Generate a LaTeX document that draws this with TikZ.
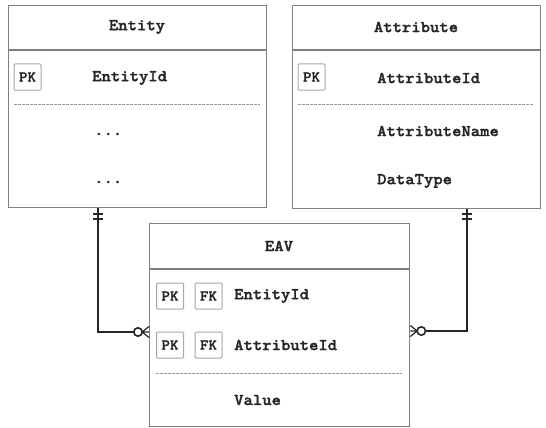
\documentclass[tikz,border=0pt]{standalone}
\usepackage{fontspec}
\newfontfamily\courbf{LMMonoLt10-Bold}[FakeBold=1.6,FakeStretch=1.08]
\begin{document}
\begin{tikzpicture}[x=1pt,y=-1pt,
  box/.style={draw=black!50, line width=1.3pt, fill=white, anchor=north west, inner sep=0pt},
  sep/.style={draw=black!50, line width=1.2pt},
  dsep/.style={draw=black!40, line width=1pt, dash pattern=on 2.5pt off 1.5pt},
  txt/.style={font=\courbf\fontsize{16.5}{18}\selectfont, text=black!85, inner sep=0pt},
  key/.style={draw=black!35, line width=1pt, rounded corners=1pt, minimum width=27pt, minimum height=26pt, inner sep=0pt, font=\courbf\fontsize{15}{17}\selectfont, text=black!85},
  rel/.style={draw=black!85, line width=1.6pt},
  tick/.style={draw=black!85, line width=1.2pt}
]
\useasboundingbox (0,0) rectangle (546,428);

% Entity table
\node[box, minimum width=258pt, minimum height=202pt] (ent) at (8,5) {};
\draw[sep] (8,50) -- (266,50);
\node[txt] (entT) at (137,27) {Entity};
\node[key] (entPK) at (27.5,77) {PK};
\node[txt, anchor=west] (entId) at (92,78) {EntityId};
\draw[dsep] (14,104) -- (260,104);
\node[txt, anchor=west] (entD1) at (94,134) {...};
\node[txt, anchor=west] (entD2) at (94,182) {...};

% Attribute table
\node[box, minimum width=248pt, minimum height=203pt] (att) at (292,5) {};
\draw[sep] (292,50) -- (540,50);
\node[txt] (attT) at (416,27) {Attribute};
\node[key] (attPK) at (311.5,77) {PK};
\node[txt, anchor=west] (attId) at (377,78) {AttributeId};
\draw[dsep] (298,104) -- (534,104);
\node[txt, anchor=west] (attN) at (377,131) {AttributeName};
\node[txt, anchor=west] (attDT) at (377,181) {DataType};

% EAV table
\node[box, minimum width=260pt, minimum height=203pt] (eav) at (149,223) {};
\draw[sep] (149,269) -- (409,269);
\node[txt] (eavT) at (279,246) {EAV};
\node[key] (eavPK1) at (170,296) {PK};
\node[key] (eavFK1) at (208.5,296) {FK};
\node[txt, anchor=west] (eavE) at (234,296) {EntityId};
\node[key] (eavPK2) at (170,345) {PK};
\node[key] (eavFK2) at (208.5,345) {FK};
\node[txt, anchor=west] (eavA) at (234,345) {AttributeId};
\draw[dsep] (156,373) -- (402,373);
\node[txt, anchor=west] (eavV) at (234,400) {Value};

% Relationships
\coordinate (lx) at (98,0);
\coordinate (ly) at (0,332);
\coordinate (rx) at (467,0);
\coordinate (ry) at (0,331);

\draw[rel] (ent.south -| lx) |- ([xshift=-12pt]eav.west |- ly);
\draw[tick] (93,214) -- (103,214) (93,219) -- (103,219);
\draw[rel, fill=white] ([xshift=-11pt]eav.west |- ly) circle (4.2pt);
\draw[tick] ([xshift=-7pt]eav.west |- ly) -- (eav.west |- ly)
  ([xshift=-7pt]eav.west |- ly) -- ([yshift=-5.5pt]eav.west |- ly)
  ([xshift=-7pt]eav.west |- ly) -- ([yshift=5.5pt]eav.west |- ly);

\draw[rel] (att.south -| rx) |- ([xshift=12pt]eav.east |- ry);
\draw[tick] (462,214) -- (472,214) (462,219) -- (472,219);
\draw[rel, fill=white] ([xshift=11pt]eav.east |- ry) circle (4.2pt);
\draw[tick] ([xshift=7pt]eav.east |- ry) -- (eav.east |- ry)
  ([xshift=7pt]eav.east |- ry) -- ([yshift=-5.5pt]eav.east |- ry)
  ([xshift=7pt]eav.east |- ry) -- ([yshift=5.5pt]eav.east |- ry);
\end{tikzpicture}
\end{document}
